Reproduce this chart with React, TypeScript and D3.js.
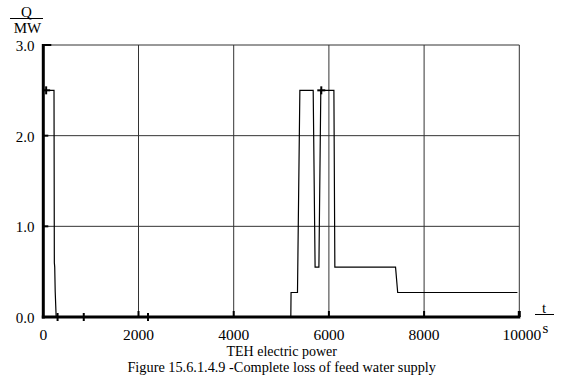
import React from "react";
import * as d3 from "d3";

const xTicks = [0, 2000, 4000, 6000, 8000, 10000];
const yTicks = [0, 1, 2, 3];
const tValues = [0, 0, 225, 232, 240, 250, 270, 5200, 5205, 5340, 5390, 5670, 5710, 5790, 5830, 6105, 6125, 7400, 7445, 9960];
const qValues = [0, 2.5, 2.5, 0.6, 0.55, 0.28, 0, 0, 0.27, 0.27, 2.5, 2.5, 0.55, 0.55, 2.5, 2.5, 0.55, 0.55, 0.27, 0.27];
const markerT = [60, 300, 850, 2200, 5840];
const markerQ = [2.5, 0, 0, 0, 2.5];
const serif = "'Liberation Serif', 'DejaVu Serif', serif";

export default function App() {
  const x = d3.scaleLinear().domain([0, 10000]).range([43.3, 519.3]);
  const y = d3.scaleLinear().domain([0, 3]).range([317, 45]);
  const pts: [number, number][] = tValues.map((t, i) => [t, qValues[i]]);
  const line = d3
    .line<[number, number]>()
    .x((d) => x(d[0]))
    .y((d) => y(d[1]));
  const grid = "#333";
  return (
    <svg
      width={575}
      height={375}
      style={{ position: "absolute", left: 0, top: 0, background: "#fff" }}
      fontFamily={serif}
    >
      <rect width={575} height={375} fill="#fff" />
      {xTicks.slice(1).map((t) => (
        <line key={"vg" + t} x1={x(t)} x2={x(t)} y1={y(3)} y2={y(0)} stroke={grid} strokeWidth={1} />
      ))}
      {yTicks.slice(1).map((v) => (
        <line key={"hg" + v} x1={x(0)} x2={x(10000)} y1={y(v)} y2={y(v)} stroke={grid} strokeWidth={1} />
      ))}
      <path d={line(pts) || ""} fill="none" stroke="#000" strokeWidth={1.2} />
      {markerT.map((t, i) => (
        <g key={"m" + i} stroke="#000" strokeWidth={2}>
          <line x1={x(t) - 4} x2={x(t) + 4} y1={y(markerQ[i])} y2={y(markerQ[i])} />
          <line x1={x(t)} x2={x(t)} y1={y(markerQ[i]) - 4} y2={y(markerQ[i]) + 4} />
        </g>
      ))}
      <line x1={x(0)} x2={x(0)} y1={y(3) - 1} y2={y(0) + 1.5} stroke="#000" strokeWidth={3} />
      <line x1={x(0) - 1.5} x2={x(10000) + 1} y1={y(0)} y2={y(0)} stroke="#000" strokeWidth={3} />
      {yTicks.map((v) => (
        <line key={"yt" + v} x1={x(0)} x2={x(0) + (v === 3 ? 8 : 5)} y1={y(v)} y2={y(v)} stroke="#000" strokeWidth={2} />
      ))}
      {xTicks.slice(1).map((t) => (
        <line key={"xt" + t} x1={x(t)} x2={x(t)} y1={y(0)} y2={y(0) - 6} stroke="#000" strokeWidth={t === 10000 ? 3 : 2} />
      ))}
      {yTicks.map((v) => (
        <text key={"yl" + v} x={34.5} y={y(v) + 6} textAnchor="end" fontSize={15}>
          {v.toFixed(1)}
        </text>
      ))}
      {xTicks.map((t) => (
        <text key={"xl" + t} x={x(t) + (t === 10000 ? 2.5 : 0)} y={340} textAnchor="middle" fontSize={15.5}>
          {t}
        </text>
      ))}
      <text x={26.5} y={16.5} textAnchor="middle" fontSize={15}>Q</text>
      <line x1={10} x2={43} y1={18.5} y2={18.5} stroke="#000" strokeWidth={1} />
      <text x={27.5} y={32.5} textAnchor="middle" fontSize={15}>MW</text>
      <text x={544} y={313} textAnchor="middle" fontSize={15}>t</text>
      <line x1={535} x2={554} y1={314.5} y2={314.5} stroke="#000" strokeWidth={1} />
      <text x={545.5} y={333} textAnchor="middle" fontSize={15}>s</text>
      <text x={281.7} y={356} textAnchor="middle" fontSize={14}>TEH electric power</text>
      <text x={281.7} y={372} textAnchor="middle" fontSize={14.3}>Figure 15.6.1.4.9 -Complete loss of feed water supply</text>
    </svg>
  );
}
